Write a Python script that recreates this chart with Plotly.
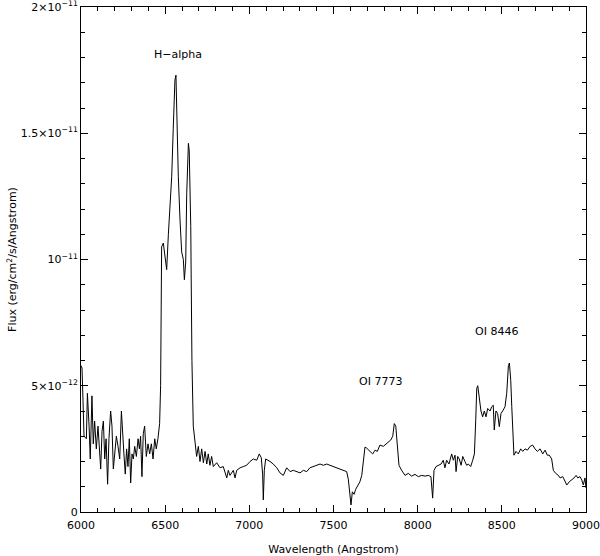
import plotly.graph_objects as go

FLUX_UNIT = 1e-12

wavelength = [
    6000, 6006, 6012, 6018, 6032, 6038, 6048, 6055, 6065, 6073, 6081, 6091, 6101, 6111, 6117,
    6125, 6133, 6141, 6149, 6158, 6166, 6176, 6184, 6192, 6200, 6210, 6220, 6230, 6240, 6248,
    6255, 6263, 6271, 6279, 6287, 6295, 6303, 6311, 6319, 6329, 6339, 6347, 6354, 6362, 6370,
    6378, 6388, 6398, 6408, 6418, 6428, 6438, 6447, 6457, 6467, 6473, 6479, 6489, 6499, 6509,
    6519, 6529, 6539, 6548, 6558, 6564, 6568, 6578, 6588, 6598, 6608, 6614, 6622, 6628, 6638,
    6643, 6652, 6659, 6667, 6677, 6687, 6697, 6707, 6717, 6727, 6737, 6747, 6756, 6766, 6776,
    6786, 6806, 6826, 6845, 6866, 6875, 6885, 6905, 6915, 6925, 6945, 6964, 6984, 7004, 7024,
    7044, 7059, 7071, 7079, 7083, 7089, 7097, 7113, 7123, 7142, 7163, 7182, 7202, 7222, 7242,
    7261, 7281, 7301, 7321, 7341, 7360, 7380, 7400, 7420, 7440, 7460, 7479, 7499, 7529, 7558,
    7578, 7588, 7598, 7604, 7612, 7622, 7632, 7641, 7657, 7668, 7677, 7687, 7697, 7707, 7717,
    7733, 7747, 7760, 7776, 7796, 7812, 7826, 7840, 7852, 7861, 7870, 7879, 7889, 7905, 7925,
    7944, 7964, 7984, 8004, 8024, 8044, 8063, 8079, 8089, 8097, 8109, 8123, 8139, 8152, 8162,
    8172, 8186, 8202, 8212, 8222, 8228, 8238, 8247, 8258, 8268, 8281, 8291, 8301, 8315, 8327,
    8337, 8345, 8351, 8357, 8366, 8376, 8386, 8396, 8406, 8416, 8430, 8440, 8449, 8455, 8465,
    8475, 8485, 8495, 8505, 8519, 8529, 8539, 8545, 8553, 8559, 8565, 8572, 8584, 8598, 8612,
    8624, 8638, 8652, 8668, 8683, 8697, 8711, 8727, 8743, 8757, 8770, 8782, 8796, 8806, 8820,
    8836, 8846, 8862, 8871, 8886, 8901, 8915, 8929, 8941, 8951, 8964, 8975, 8984, 8994, 9000,
]

flux = [
    5.8, 5.7, 4.4, 3.0, 2.9, 4.7, 3.4, 2.1, 4.6, 2.7, 3.6, 2.5, 3.4, 2.2, 1.7,
    3.2, 3.6, 2.1, 2.9, 1.1, 2.9, 4.0, 3.4, 1.7, 2.2, 3.0, 2.6, 2.1, 4.0, 2.9,
    2.3, 1.5, 2.5, 1.8, 2.9, 1.15, 2.3, 2.1, 2.6, 2.2, 2.9, 2.5, 3.0, 1.4, 3.1,
    3.4, 2.2, 2.7, 2.3, 2.7, 2.1, 2.9, 2.5, 2.9, 3.5, 5.0, 10.5, 10.65, 10.1, 9.6,
    11.0, 12.0, 13.3, 15.2, 17.1, 17.3, 15.9, 13.3, 11.6, 10.3, 10.0, 9.2, 9.9, 12.6, 14.6,
    14.3, 11.3, 6.0, 3.4, 2.85, 2.2, 2.6, 2.0, 2.5, 1.95, 2.4, 1.9, 2.3, 1.85, 2.2,
    1.8, 1.95, 1.75, 1.8, 1.35, 1.65, 1.45, 1.65, 1.35, 1.65, 1.75, 1.8, 1.85, 2.0, 2.1,
    2.05, 2.3, 2.15, 1.5, 0.48, 1.65, 2.1, 2.05, 2.0, 1.9, 1.75, 1.55, 1.45, 1.75, 1.6,
    1.65, 1.6, 1.55, 1.65, 1.6, 1.75, 1.8, 1.85, 1.9, 1.85, 1.9, 1.85, 1.8, 1.75, 1.65,
    1.6, 1.3, 0.7, 0.28, 0.8, 0.7, 0.9, 1.0, 1.2, 1.45, 2.05, 2.57, 2.53, 2.45, 2.4,
    2.3, 2.45, 2.4, 2.65, 2.6, 2.7, 2.8, 2.85, 3.0, 3.5, 3.4, 2.57, 1.85, 1.65, 1.45,
    1.53, 1.42, 1.49, 1.4, 1.45, 1.42, 1.45, 1.4, 0.55, 1.65, 1.8, 1.85, 1.9, 2.05, 1.75,
    2.05, 1.9, 2.3, 2.05, 2.25, 1.6, 2.2, 2.1, 1.85, 2.2, 2.0, 1.85, 1.9, 1.8, 2.05,
    2.3, 3.65, 4.9, 5.0, 4.55, 4.0, 3.77, 4.0, 3.77, 4.1, 4.0, 4.17, 4.23, 3.25, 4.0,
    3.9, 3.38, 3.9, 4.0, 4.17, 4.7, 5.8, 5.9, 5.2, 4.17, 2.85, 2.25, 2.4, 2.3, 2.5,
    2.4, 2.5, 2.45, 2.6, 2.65, 2.5, 2.4, 2.5, 2.3, 2.45, 2.25, 2.25, 2.1, 1.65, 1.53,
    1.45, 1.35, 1.4, 1.27, 1.07, 1.2, 1.27, 1.35, 1.45, 1.35, 1.4, 1.27, 1.07, 1.35, 0.95,
]

line_labels = ["H\u2212alpha", "OI 7773", "OI 8446"]
label_wavelength = [6577, 7782, 8466]
label_flux = [18.1, 5.15, 7.13]

x_tick_vals = [6000, 6500, 7000, 7500, 8000, 8500, 9000]
x_minor_vals = list(range(6000, 9001, 100))
y_tick_vals = [0, 5e-12, 1e-11, 1.5e-11, 2e-11]
y_tick_text = ["0", "5\u00d710<sup>\u221212</sup>", "10<sup>\u221211</sup>",
               "1.5\u00d710<sup>\u221211</sup>", "2\u00d710<sup>\u221211</sup>"]
y_minor_vals = [i * 1e-12 for i in range(0, 21)]

FONT = "DejaVu Sans"

fig = go.Figure()
fig.add_trace(go.Scatter(
    x=wavelength,
    y=[f * FLUX_UNIT for f in flux],
    mode="lines",
    line=dict(color="black", width=1),
    showlegend=False,
    hoverinfo="skip",
))

for t, wx, fy in zip(line_labels, label_wavelength, label_flux):
    fig.add_annotation(x=wx, y=fy * FLUX_UNIT, text=t, showarrow=False,
                       font=dict(family=FONT, size=11, color="black"),
                       xanchor="center", yanchor="middle")

axis_common = dict(
    showgrid=False, zeroline=False, showline=True, linecolor="black", linewidth=1,
    mirror="ticks", ticks="inside", ticklen=7, tickcolor="black", tickwidth=1,
    tickfont=dict(family=FONT, size=11, color="black"), automargin=False,
    ticklabeloverflow="allow",
)

fig.update_xaxes(
    range=[6000, 9000], tickmode="array", tickvals=x_tick_vals,
    ticktext=[str(v) for v in x_tick_vals], ticklabelstandoff=3,
    minor=dict(tickmode="array", tickvals=x_minor_vals, ticks="inside", ticklen=4,
               tickcolor="black", tickwidth=1, showgrid=False),
    title=dict(text="Wavelength (Angstrom)", font=dict(family=FONT, size=11, color="black"),
               standoff=16),
    **axis_common,
)
fig.update_yaxes(
    range=[0, 2e-11], tickmode="array", tickvals=y_tick_vals, ticktext=y_tick_text,
    minor=dict(tickmode="array", tickvals=y_minor_vals, ticks="inside", ticklen=4,
               tickcolor="black", tickwidth=1, showgrid=False),
    title=dict(text="Flux (erg/cm<sup>2</sup>/s/Angstrom)",
               font=dict(family=FONT, size=11, color="black"), standoff=1),
    **axis_common,
)

fig.update_layout(
    width=600, height=556,
    margin=dict(l=81, r=14, t=7, b=44),
    plot_bgcolor="white", paper_bgcolor="white",
)

fig.write_html("out.html", config={"displayModeBar": False},
               post_script="document.body.style.margin='0';")
